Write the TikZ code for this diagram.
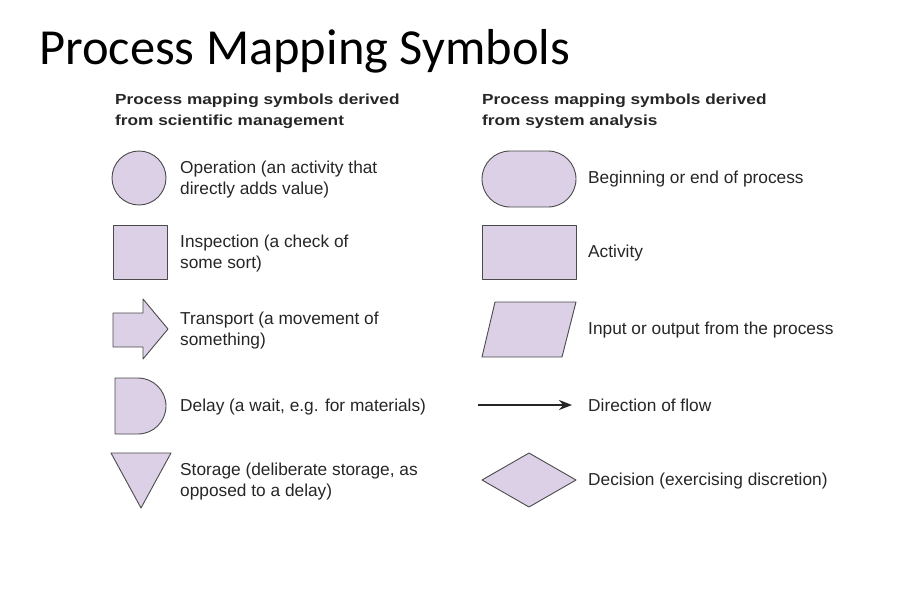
\documentclass[tikz,border=0pt]{standalone}
\usepackage{fontspec}
\setmainfont{Liberation Sans}
\newfontfamily\titlefont{Carlito}
\newfontfamily\headfont[FakeStretch = 1.18]{Liberation Sans}
\usetikzlibrary{arrows.meta, calc}

\definecolor{symbolfill}{HTML}{DCD0E6}
\definecolor{symboldraw}{HTML}{4A4A4A}

\tikzset{
	symbol/.style = {fill = symbolfill, draw = symboldraw, line width = 0.9pt, line join = round},
	label text/.style = {anchor = base west, align = left, inner sep = 0pt, font = \fontsize{17.3}{21}\selectfont, text = black!85},
	heading/.style = {anchor = base west, align = left, inner sep = 0pt, font = \headfont\bfseries\fontsize{14.6}{20.5}\selectfont, text = black!85}
}

\begin{document}
\begin{tikzpicture}[x = 1pt, y = -1pt]
	\def\lx{180};
	\def\rx{588};

	\useasboundingbox (0,0) rectangle (920,592);

	% title and headings (multi-line nodes sit on their last baseline)
	\node [anchor = base west, inner sep = 0pt, font = \titlefont\fontsize{50.5}{54}\selectfont] (title) at (39,64) {Process Mapping Symbols};
	\node [heading] (left heading) at (115,125) {Process mapping symbols derived\\from scientific management};
	\node [heading] (right heading) at (482,125) {Process mapping symbols derived\\from system analysis};

	% symbols derived from scientific management
	\begin{scope}
		\draw [symbol] (139,178) circle (27);
		\draw [symbol] (113,225) rectangle (167,279);
		\draw [symbol] (113,313) -- (143,313) -- (143,299) -- (168,329) -- (143,359) -- (143,347) -- (113,347) -- cycle;
		\draw [symbol] (115,378) -- (138,378) arc (-90:90:28) -- (115,434) -- cycle;
		\draw [symbol] (111,453) -- (171,453) -- (141,508) -- cycle;
	\end{scope}

	\node [label text] (operation) at (\lx,194) {Operation (an activity that\\directly adds value)};
	\node [label text] (inspection) at (\lx,268) {Inspection (a check of\\some sort)};
	\node [label text] (transport) at (\lx,345) {Transport (a movement of\\something)};
	\node [label text] (delay) at (\lx,411) {Delay (a wait, e.g. for materials)};
	\node [label text] (storage) at (\lx,496) {Storage (deliberate storage, as\\opposed to a delay)};

	% symbols derived from system analysis
	\begin{scope}
		\draw [symbol, rounded corners = 28] (482,151) rectangle (576,207);
		\draw [symbol] (482,225) rectangle (576,279);
		\draw [symbol] (495,302) -- (576,302) -- (562,357) -- (482,357) -- cycle;
		\coordinate (flow start) at (478,405);
		\coordinate (flow end) at (572,405);
		\draw [line width = 2.2pt, draw = black!85, -{Stealth[length = 13pt, width = 10pt]}] (flow start) -- (flow end);
		\draw [symbol] (482,480) -- (529,453) -- (576,480) -- (529,507) -- cycle;
	\end{scope}

	\node [label text] (terminal) at (\rx,183) {Beginning or end of process};
	\node [label text] (activity) at (\rx,257) {Activity};
	\node [label text] (input output) at (\rx,334) {Input or output from the process};
	\node [label text] (direction) at (\rx,411) {Direction of flow};
	\node [label text] (decision) at (\rx,485) {Decision (exercising discretion)};
\end{tikzpicture}
\end{document}
